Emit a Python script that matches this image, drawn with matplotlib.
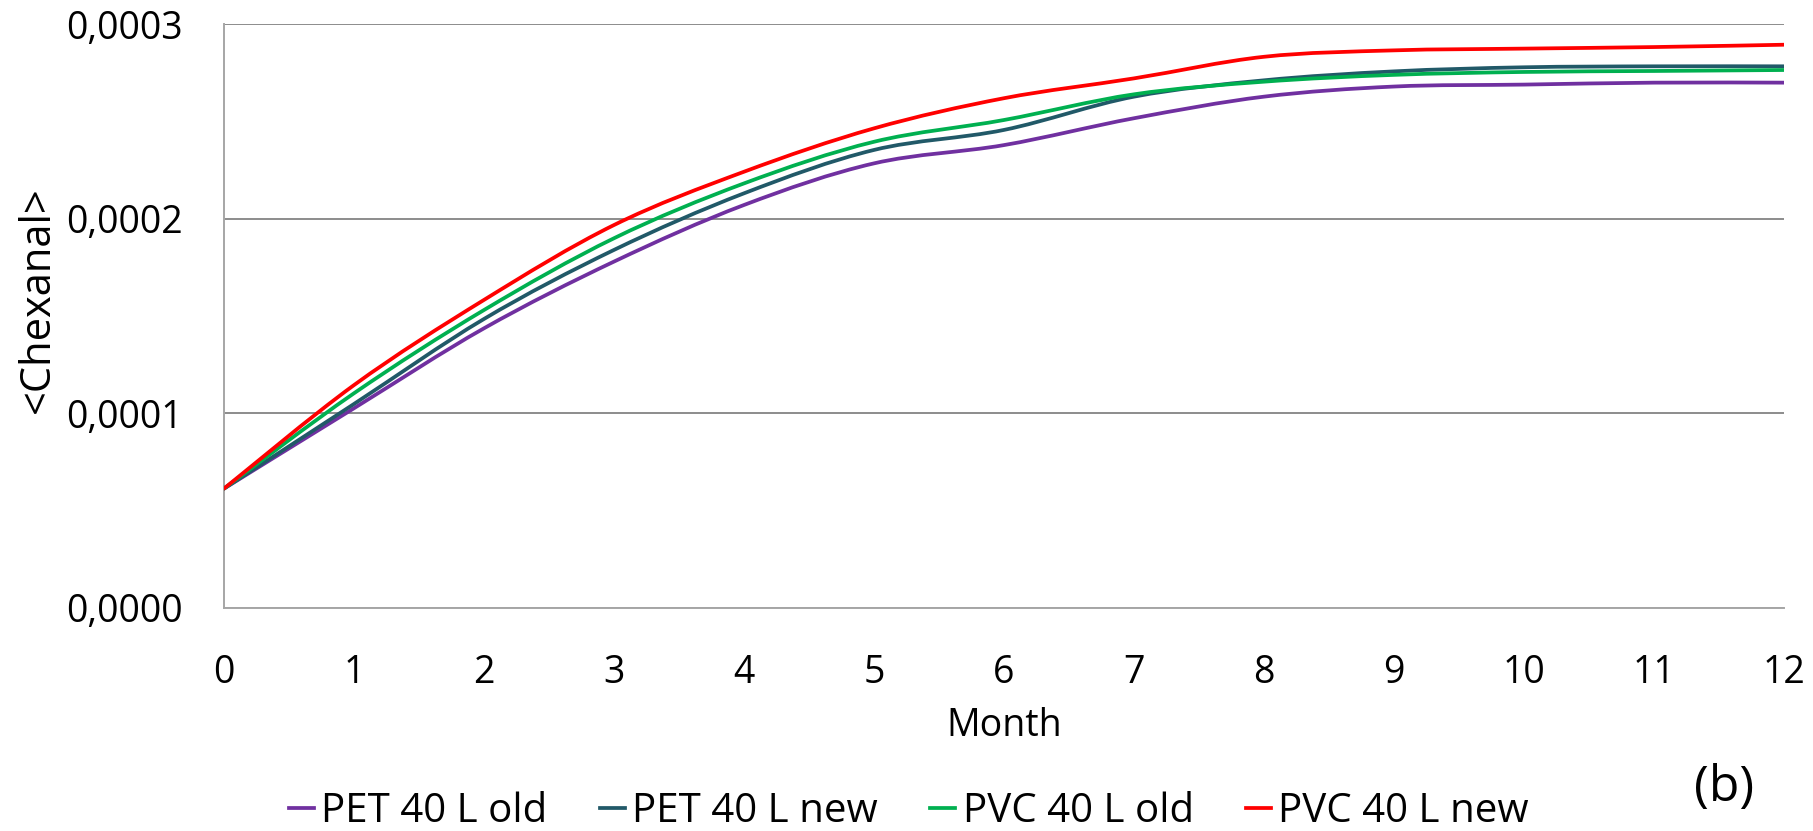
import matplotlib
matplotlib.use("Agg")
import matplotlib.pyplot as plt
from matplotlib.path import Path
from matplotlib.patches import PathPatch
from matplotlib.lines import Line2D
from matplotlib.ticker import FuncFormatter
import numpy as np

plt.rcParams['font.family'] = ['Open Sans', 'DejaVu Sans']

months = [0, 1, 2, 3, 4, 5, 6, 7, 8, 9, 10, 11, 12]
pet_old = [0.613, 1.026, 1.437, 1.78, 2.071, 2.285, 2.379, 2.517, 2.628, 2.68, 2.69, 2.70, 2.70]
pet_new = [0.613, 1.048, 1.485, 1.84, 2.131, 2.354, 2.457, 2.628, 2.712, 2.758, 2.779, 2.784, 2.784]
pvc_old = [0.613, 1.103, 1.531, 1.90, 2.182, 2.396, 2.508, 2.64, 2.705, 2.74, 2.755, 2.76, 2.765]
pvc_new = [0.613, 1.145, 1.583, 1.968, 2.242, 2.465, 2.62, 2.722, 2.833, 2.866, 2.875, 2.883, 2.895]
scale = 1e-4

names = ["PET 40 L old", "PET 40 L new", "PVC 40 L old", "PVC 40 L new"]
colors = ["#7030A0", "#215968", "#00B050", "#FF0000"]
series = [pet_old, pet_new, pvc_old, pvc_new]


def smooth_path(x, y):
    # excel style smoothed line: cubic bezier segments through the points
    x = np.asarray(x, float)
    y = np.asarray(y, float)
    n = len(x)
    verts = [(x[0], y[0])]
    codes = [Path.MOVETO]
    for i in range(n - 1):
        x0, y0 = (x[i - 1], y[i - 1]) if i > 0 else (x[i], y[i])
        x3, y3 = (x[i + 2], y[i + 2]) if i + 2 < n else (x[i + 1], y[i + 1])
        c1 = (x[i] + (x[i + 1] - x0) / 6, y[i] + (y[i + 1] - y0) / 6)
        c2 = (x[i + 1] - (x3 - x[i]) / 6, y[i + 1] - (y3 - y[i]) / 6)
        verts += [c1, c2, (x[i + 1], y[i + 1])]
        codes += [Path.CURVE4] * 3
    return Path(verts, codes)


fig = plt.figure(figsize=(18.13, 8.31), dpi=100)
ax = fig.add_axes([224 / 1813, 1 - 607.8 / 831, (1784 - 224) / 1813, (607.8 - 24.3) / 831])

for vals, c in zip(series, colors):
    yv = [v * scale for v in vals]
    ax.add_patch(PathPatch(smooth_path(months, yv), fill=False, edgecolor=c,
                           linewidth=2.7, capstyle='round', zorder=3))

ax.set_xlim(0, 12)
ax.set_ylim(0, 0.0003)
ax.set_xticks(months)
ax.set_yticks([0, 0.0001, 0.0002, 0.0003])
ax.yaxis.set_major_formatter(FuncFormatter(lambda v, p: f"{v:.4f}".replace(".", ",")))
ax.grid(axis='y', color='#8c8c8c', linewidth=1.4)
ax.set_axisbelow(True)
for s in ['top', 'right']:
    ax.spines[s].set_visible(False)
for s in ['left', 'bottom']:
    ax.spines[s].set_color('#a6a6a6')
    ax.spines[s].set_linewidth(1.4)
ax.tick_params(length=0, labelsize=27, colors='#000000')
ax.tick_params(axis='x', pad=33)
ax.tick_params(axis='y', pad=30)

fig.text(1004 / 1813, 1 - 726 / 831, "Month", fontsize=27, ha='center', va='center')
fig.text(38 / 1813, 1 - 300 / 831, "<Chexanal>", rotation=90, fontsize=30,
         ha='center', va='center')
fig.text(1724 / 1813, 1 - 788 / 831, "(b)", fontsize=36, ha='center', va='center')

handles = [Line2D([0], [0], color=c, linewidth=2.7) for c in colors]
fig.legend(handles, names, loc='center', bbox_to_anchor=(909 / 1813, 1 - 812 / 831),
           ncol=4, frameon=False, fontsize=29, handlelength=0.62, handletextpad=0.18,
           columnspacing=1.3, borderaxespad=0, borderpad=0)

fig.savefig("out.png", dpi=100)
